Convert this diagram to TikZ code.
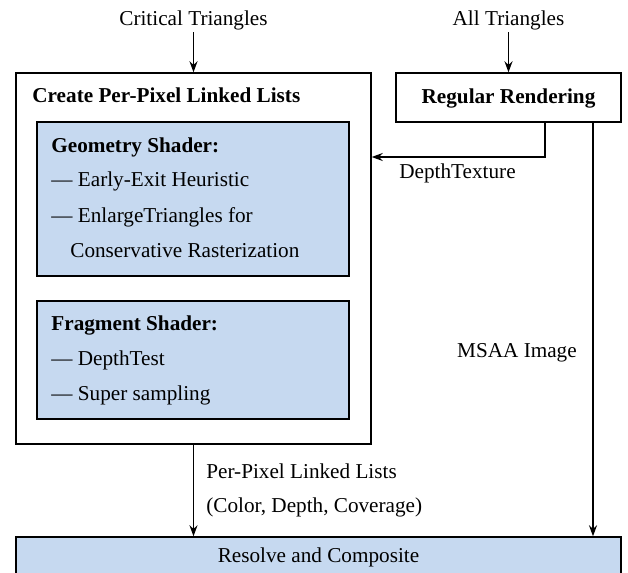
\documentclass[tikz,border=0pt]{standalone}
\usepackage{fontspec}
\setmainfont{Liberation Serif}
\usetikzlibrary{fit,arrows.meta}
\definecolor{shaderblue}{RGB}{198,217,240}
\newcommand\labelfont{\fontsize{10.6}{12.7}\selectfont}

\begin{document}
\begin{tikzpicture}[x=0.5pt,y=-0.5pt,
  every node/.style={font=\labelfont, text height=1.5ex, text depth=.25ex, inner sep=2pt},
  head/.style={font=\labelfont\bfseries},
  box/.style={draw, line width=0.7pt, inner sep=0pt},
  shader/.style={box, fill=shaderblue},
  arr/.style={line width=0.7pt, -{Stealth[length=5.5pt,width=4pt]}},
  txt/.style={anchor=west, inner sep=0pt}]
\useasboundingbox (0,0) rectangle (628,573);
\clip (0,0) rectangle (628,573);

% boxes
\node[box, fit={(16,73) (371,444)}] (create) {};
\node[box, fit={(396,73) (621,122)}] (regular) {};
\node[shader, fit={(37,122) (349,276)}] (geometry) {};
\node[shader, fit={(37,301) (349,419)}] (fragment) {};
\node[shader, fit={(16,537) (621,600)}] (resolve) {};

% inputs
\node (critical) at (193.5,20) {Critical Triangles};
\node (all) at (508.5,20) {All Triangles};
\draw[arr] (critical) -- (create);
\draw[arr] (all) -- (regular);

% linked list pass
\node[txt, head] (createlbl) at (32,97) {Create Per-Pixel Linked Lists};
\node[txt, head] (geomlbl) at (51,147) {Geometry Shader:};
\node[txt] (exit) at (51,181) {— Early-Exit Heuristic};
\node[txt] (enlarge) at (51,217) {— EnlargeTriangles for};
\node[txt] (conserv) at (70,252) {Conservative Rasterization};
\node[txt, head] (fraglbl) at (51,325) {Fragment Shader:};
\node[txt] (dtest) at (51,360) {— DepthTest};
\node[txt] (supers) at (51,395) {— Super sampling};

% regular pass
\node[head] (reglbl) at (regular.center) {Regular Rendering};
\coordinate (depth) at (545,157);
\draw[arr] (regular.south -| depth) |- (create.east |- depth);
\node[txt] (depthlbl) at (399,173) {DepthTexture};
\coordinate (msaa) at (593,0);
\draw[arr] (regular.south -| msaa) -- (resolve.north -| msaa);
\node (msaalbl) at (517,352) {MSAA Image};

% resolve
\draw[arr] (create.south) -- (resolve.north -| create.south);
\node[txt] (listlbl) at (206,473) {Per-Pixel Linked Lists};
\node[txt] (datalbl) at (206,507) {(Color, Depth, Coverage)};
\node (resolvelbl) at (318.5,557) {Resolve and Composite};
\end{tikzpicture}
\end{document}
